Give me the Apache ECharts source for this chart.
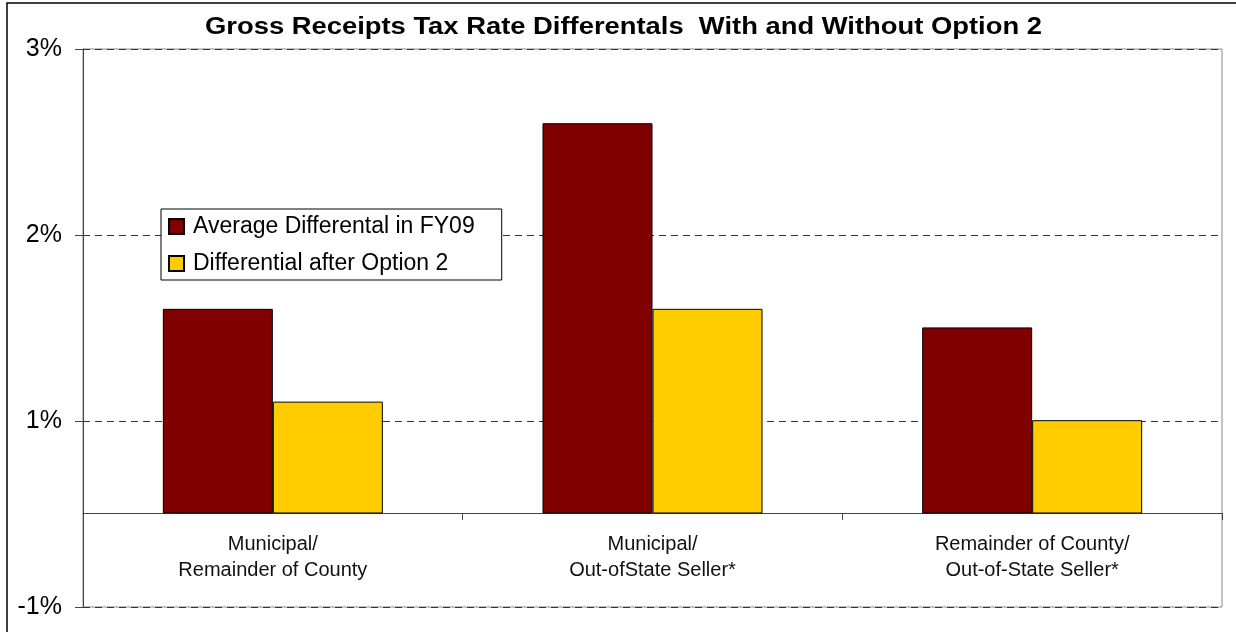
<!DOCTYPE html>
<html>
<head>
<meta charset="utf-8">
<title>Gross Receipts Tax Rate Differentals</title>
<script src="https://cdn.jsdelivr.net/npm/echarts@6/dist/echarts.min.js"></script>
<style>
  html, body { margin: 0; padding: 0; background: #fff; }
  #chart { width: 1236px; height: 632px; }
</style>
</head>
<body>
<div id="chart"></div>
<script>
// data
const categories = [
  'Municipal/\nRemainder of County',
  'Municipal/\nOut-ofState Seller*',
  'Remainder of County/\nOut-of-State Seller*'
];
const avgFY09 = [1.6, 2.6, 1.5];
const afterOption2 = [1.1, 1.6, 1.0];
// the source chart labels its bottom gridline "-1%" and hides 0
const yTickValues = [0, 1, 2, 3];
const yTickLabels = ['-1%', '1%', '2%', '3%'];
const baseLine = 0.5; // where the category axis crosses

const titleText = 'Gross Receipts Tax Rate Differentals  With and Without Option 2';
const font = 'Liberation Sans, Arial, sans-serif';
const chart = echarts.init(document.getElementById('chart'));

const option = {
  backgroundColor: '#fff',
  animation: false,
  legend: {
    orient: 'vertical',
    left: 161,
    top: 209,
    padding: [6, 27, 5, 7],
    itemGap: 14,
    itemWidth: 15,
    itemHeight: 15,
    icon: 'rect',
    borderColor: '#000',
    borderWidth: 1,
    backgroundColor: '#fff',
    data: ['Average Differental in FY09', 'Differential after Option 2'],
    textStyle: { fontFamily: font, fontSize: 23, color: '#000', padding: [0, 0, 0, 4] }
  },
  grid: [
    // full plot box from -1% to 3%
    { left: 83, right: 14, top: 49, bottom: 25, show: true, borderColor: '#888', borderWidth: 1 },
    // bar area, bars rise from the crossing line
    { left: 83, right: 14, top: 49, bottom: 119 }
  ],
  xAxis: [
    { gridIndex: 0, type: 'category', data: categories, show: false },
    {
      gridIndex: 1,
      type: 'category',
      data: categories,
      axisLine: { lineStyle: { color: '#444', width: 1 } },
      axisTick: { show: true, length: 7, lineStyle: { color: '#444' } },
      axisLabel: {
        fontFamily: font,
        fontSize: 20,
        color: '#111',
        margin: 18,
        lineHeight: 26
      }
    }
  ],
  yAxis: [
    {
      gridIndex: 0,
      type: 'value',
      min: 0,
      max: 3,
      interval: 1,
      axisLine: { show: true, lineStyle: { color: '#444', width: 1 } },
      axisTick: { show: true, length: 8, lineStyle: { color: '#444' } },
      axisLabel: {
        fontFamily: font,
        fontSize: 25,
        color: '#000',
        margin: 21,
        formatter: function (v) {
          const i = yTickValues.indexOf(v);
          return i >= 0 ? yTickLabels[i] : '';
        }
      },
      splitLine: { show: true, lineStyle: { color: '#333', type: [7, 5], width: 1 } }
    },
    { gridIndex: 1, type: 'value', min: baseLine, max: 3, show: false, splitLine: { show: false } }
  ],
  series: [
    {
      name: 'Average Differental in FY09',
      type: 'bar',
      xAxisIndex: 1,
      yAxisIndex: 1,
      data: avgFY09,
      barWidth: 110,
      barGap: '0%',
      clip: true,
      itemStyle: { color: '#800000', borderColor: '#000', borderWidth: 1 }
    },
    {
      name: 'Differential after Option 2',
      type: 'bar',
      xAxisIndex: 1,
      yAxisIndex: 1,
      data: afterOption2,
      barWidth: 110,
      barGap: '0%',
      clip: true,
      itemStyle: { color: '#FFCC00', borderColor: '#000', borderWidth: 1 }
    }
  ],
  graphic: [
    {
      type: 'rect',
      silent: true,
      shape: { x: 7, y: 3, width: 1260, height: 660 },
      style: { fill: null, stroke: '#000', lineWidth: 1.5 }
    },
    {
      // title is drawn a bit wider than the font, as in the original
      type: 'text',
      silent: true,
      x: 205,
      y: 28,
      scaleX: 1.19,
      style: {
        text: titleText,
        font: 'bold 23px ' + font,
        fill: '#000',
        verticalAlign: 'middle'
      }
    }
  ]
};

chart.setOption(option);
</script>
</body>
</html>
